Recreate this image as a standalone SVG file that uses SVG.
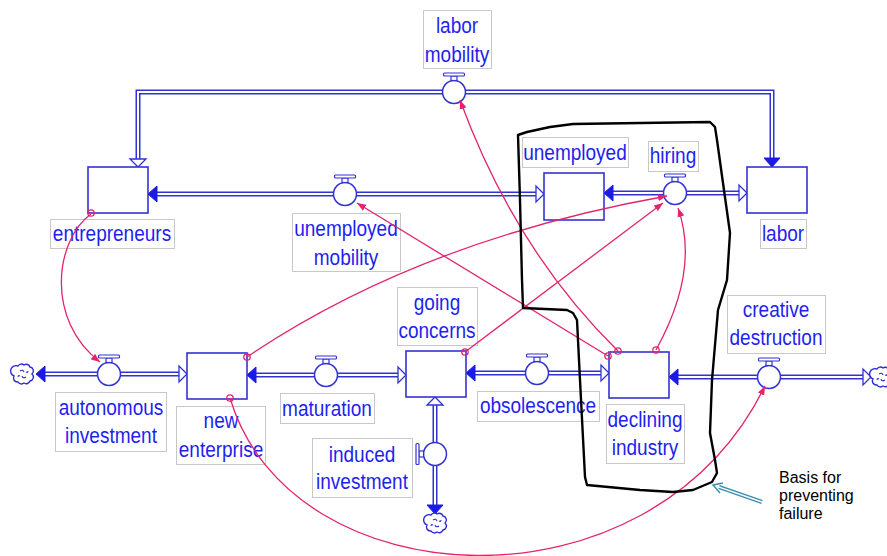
<svg xmlns="http://www.w3.org/2000/svg" xmlns:xlink="http://www.w3.org/1999/xlink" width="887" height="556" viewBox="0 0 887 556">
<style>
.pipeo{fill:none;stroke:#3232d2;stroke-width:5;stroke-linejoin:miter}
.pipei{fill:none;stroke:#fff;stroke-width:2;stroke-linejoin:miter}
.stock{fill:#fff;stroke:#3232d2;stroke-width:1.6}
.af{fill:#1a1ae6;stroke:#1a1ae6;stroke-width:1}
.ah{fill:#fff;stroke:#3232d2;stroke-width:1.3}
.lbl{fill:#fff;stroke:#c8c8c8;stroke-width:1}
.t{font-family:"Liberation Sans",Arial,sans-serif;font-size:22.5px;fill:#1f1ff0;text-anchor:middle}
.lk{fill:none;stroke:#e2246e;stroke-width:1.3;marker-end:url(#lh)}
.tail{fill:none;stroke:#e2246e;stroke-width:1.3}
.cloud{fill:#fff;stroke:#2a2ad8;stroke-width:1.4}
.note{font-family:"Liberation Sans",Arial,sans-serif;font-size:16px;fill:#000}
</style>
<defs>
<marker id="lh" markerWidth="10" markerHeight="8" refX="9" refY="4" orient="auto" markerUnits="userSpaceOnUse">
<path d="M0,0.5 L9,4 L0,7.5 Z" fill="#e2246e"/>
</marker>
<g id="valve">
<circle r="11.5" fill="#fff" stroke="#3232d2" stroke-width="1.5"/>
<rect x="-3" y="-16" width="6" height="4.5" fill="#fff" stroke="#3232d2" stroke-width="1.2"/>
<rect x="-10.5" y="-19" width="21" height="3" rx="1" fill="#fff" stroke="#3232d2" stroke-width="1.2"/>
</g>
<g id="cloud">
<path class="cloud" d="M-5,-8 a4,4 0 0 1 6,-1 a4,4 0 0 1 6,2 a4,4 0 0 1 2,7 a4,4 0 0 1 -2,7 a4,4 0 0 1 -6,2 a4,4 0 0 1 -6,-1 a4,4 0 0 1 -4,-6 a4,4 0 0 1 4,-10 Z"/>
<path d="M-3,-3 q3,-2 4,1 M3,3 q-3,2 -4,-1 M-5,3 q0,-2 2,-1 M5,-3 q0,2 -2,1" fill="none" stroke="#2a2ad8" stroke-width="1.1"/>
</g>
<path id="p1" d="M138,160 V92 H772 V158"/>
<path id="p2" d="M157,194 H537"/>
<path id="p3" d="M613,193 H740"/>
<path id="p4" d="M45,374 H180"/>
<path id="p5" d="M256,375 H399"/>
<path id="p6" d="M475,373 H602"/>
<path id="p7" d="M678,377 H864"/>
<path id="p8" d="M435,405 V505"/>
</defs>
<rect width="887" height="556" fill="#fff"/>

<g id="flows">
<use href="#p1" class="pipeo"/><use href="#p1" class="pipei"/>
<use href="#p2" class="pipeo"/><use href="#p2" class="pipei"/>
<use href="#p3" class="pipeo"/><use href="#p3" class="pipei"/>
<use href="#p4" class="pipeo"/><use href="#p4" class="pipei"/>
<use href="#p5" class="pipeo"/><use href="#p5" class="pipei"/>
<use href="#p6" class="pipeo"/><use href="#p6" class="pipei"/>
<use href="#p7" class="pipeo"/><use href="#p7" class="pipei"/>
<use href="#p8" class="pipeo"/><use href="#p8" class="pipei"/>
<polygon class="ah" points="138,167 130,159 146,159"/>
<polygon class="af" points="772,167 764,158 780,158"/>
<polygon class="af" points="148,194 157,186 157,202"/>
<polygon class="ah" points="544,194 536,186 536,202"/>
<polygon class="af" points="604,193 613,185 613,201"/>
<polygon class="ah" points="747,193 739,185 739,201"/>
<polygon class="af" points="36,374 45,366 45,382"/>
<polygon class="ah" points="187,374 179,366 179,382"/>
<polygon class="af" points="247,375 256,367 256,383"/>
<polygon class="ah" points="406,375 398,367 398,383"/>
<polygon class="af" points="466,373 475,365 475,381"/>
<polygon class="ah" points="609,373 601,365 601,381"/>
<polygon class="af" points="669,377 678,369 678,385"/>
<polygon class="ah" points="871,377 863,369 863,385"/>
<polygon class="ah" points="435,397 427,405 443,405"/>
<polygon class="af" points="435,514 427,505 443,505"/>
</g>

<g id="cloud-left"><use href="#cloud" x="23" y="374"/></g>
<g id="cloud-right"><use href="#cloud" x="882" y="377"/></g>
<g id="cloud-bottom"><use href="#cloud" x="436" y="523"/></g>

<g id="entrepreneurs">
<rect class="stock" x="88" y="167" width="60" height="46"/>
<rect class="lbl" x="50.5" y="219.5" width="124" height="29"/>
<text class="t" transform="translate(112,241) scale(0.845,1)">entrepreneurs</text>
</g>
<g id="unemployed">
<rect class="stock" x="544" y="173" width="60" height="47"/>
<rect class="lbl" x="522.5" y="137.5" width="106" height="30"/>
<text class="t" transform="translate(575,160) scale(0.845,1)">unemployed</text>
</g>
<g id="labor">
<rect class="stock" x="747" y="167" width="60" height="46"/>
<rect class="lbl" x="760.5" y="219.5" width="46" height="29"/>
<text class="t" transform="translate(783,241) scale(0.845,1)">labor</text>
</g>
<g id="new-enterprise">
<rect class="stock" x="187" y="353" width="60" height="46"/>
<rect class="lbl" x="176.5" y="406.5" width="89" height="58"/>
<text class="t" transform="translate(221,428) scale(0.845,1)">new</text>
<text class="t" transform="translate(221,457) scale(0.845,1)">enterprise</text>
</g>
<g id="going-concerns">
<rect class="stock" x="406" y="351" width="60" height="46"/>
<rect class="lbl" x="397.5" y="287.5" width="80" height="58"/>
<text class="t" transform="translate(437,310) scale(0.845,1)">going</text>
<text class="t" transform="translate(437,338) scale(0.845,1)">concerns</text>
</g>
<g id="declining-industry">
<rect class="stock" x="609" y="352" width="60" height="46"/>
<rect class="lbl" x="606.5" y="404.5" width="78" height="59"/>
<text class="t" transform="translate(645,427) scale(0.845,1)">declining</text>
<text class="t" transform="translate(645,455) scale(0.845,1)">industry</text>
</g>

<g id="labor-mobility">
<use href="#valve" x="454" y="92"/>
<rect class="lbl" x="423.5" y="10.5" width="68" height="58"/>
<text class="t" transform="translate(457,33) scale(0.845,1)">labor</text>
<text class="t" transform="translate(457,62) scale(0.845,1)">mobility</text>
</g>
<g id="unemployed-mobility">
<use href="#valve" x="345" y="194"/>
<rect class="lbl" x="292.5" y="213.5" width="108" height="58"/>
<text class="t" transform="translate(346,236) scale(0.845,1)">unemployed</text>
<text class="t" transform="translate(346,265) scale(0.845,1)">mobility</text>
</g>
<g id="hiring">
<use href="#valve" x="675" y="193"/>
<rect class="lbl" x="648.5" y="141.5" width="50" height="30"/>
<text class="t" transform="translate(673,163) scale(0.845,1)">hiring</text>
</g>
<g id="autonomous-investment">
<use href="#valve" x="109" y="374"/>
<rect class="lbl" x="55.5" y="392.5" width="111" height="59"/>
<text class="t" transform="translate(111,415) scale(0.845,1)">autonomous</text>
<text class="t" transform="translate(111,443) scale(0.845,1)">investment</text>
</g>
<g id="maturation">
<use href="#valve" x="326" y="375"/>
<rect class="lbl" x="280.5" y="393.5" width="94" height="30"/>
<text class="t" transform="translate(327,416) scale(0.845,1)">maturation</text>
</g>
<g id="obsolescence">
<use href="#valve" x="537" y="373"/>
<rect class="lbl" x="477.5" y="391.5" width="122" height="30"/>
<text class="t" transform="translate(538,413) scale(0.845,1)">obsolescence</text>
</g>
<g id="creative-destruction">
<use href="#valve" x="769" y="377"/>
<rect class="lbl" x="727.5" y="295.5" width="98" height="58"/>
<text class="t" transform="translate(776,317) scale(0.845,1)">creative</text>
<text class="t" transform="translate(776,345) scale(0.845,1)">destruction</text>
</g>
<g id="induced-investment">
<use href="#valve" transform="translate(435,454) rotate(-90)"/>
<rect class="lbl" x="312.5" y="438.5" width="100" height="59"/>
<text class="t" transform="translate(362,462) scale(0.845,1)">induced</text>
<text class="t" transform="translate(362,489) scale(0.845,1)">investment</text>
</g>

<g id="links">
<path class="lk" d="M91,214 C55,240 45,320 100,362"/>
<path class="lk" d="M247,357 Q420,240 667,196"/>
<path class="lk" d="M230,398 C290,600 650,620 765,386"/>
<path class="lk" d="M465,352 L663,203"/>
<path class="lk" d="M608,356 L357,203"/>
<path class="lk" d="M618,351 Q515,250 460,100"/>
<path class="lk" d="M656,350 Q700,270 678,208"/>
<circle class="tail" cx="91" cy="213" r="3.2"/>
<circle class="tail" cx="247" cy="357" r="3.2"/>
<circle class="tail" cx="230" cy="398" r="3.2"/>
<circle class="tail" cx="465" cy="352" r="3.2"/>
<circle class="tail" cx="608" cy="356" r="3.2"/>
<circle class="tail" cx="618" cy="351" r="3.2"/>
<circle class="tail" cx="656" cy="350" r="3.2"/>
</g>

<g id="highlight-loop">
<path d="M518,135 L527,132 L550,127 L573,124 L640,123 L710,122 L715,127 L717,140 L723,183 L730,233 L727,280 L718,310 L712,380 L710,433 L715,460 L717,473 L712,482 L693,490 L673,492 L640,490 L587,485 L585,477 L580,380 L577,320 L573,313 L567,310 L523,308 L522,280 L520,200 Z" fill="none" stroke="#000" stroke-width="2.4" stroke-linejoin="round"/>
</g>

<g id="note">
<path d="M762,502 L719,487" fill="none" stroke="#3a8fb0" stroke-width="4"/>
<path d="M762,502 L717,486.3" fill="none" stroke="#fff" stroke-width="1.4"/>
<polyline points="723,483 713,485 720,493" fill="none" stroke="#3a8fb0" stroke-width="1.5"/>
<text class="note" x="779" y="483">Basis for</text>
<text class="note" x="779" y="501">preventing</text>
<text class="note" x="779" y="519">failure</text>
</g>
</svg>
